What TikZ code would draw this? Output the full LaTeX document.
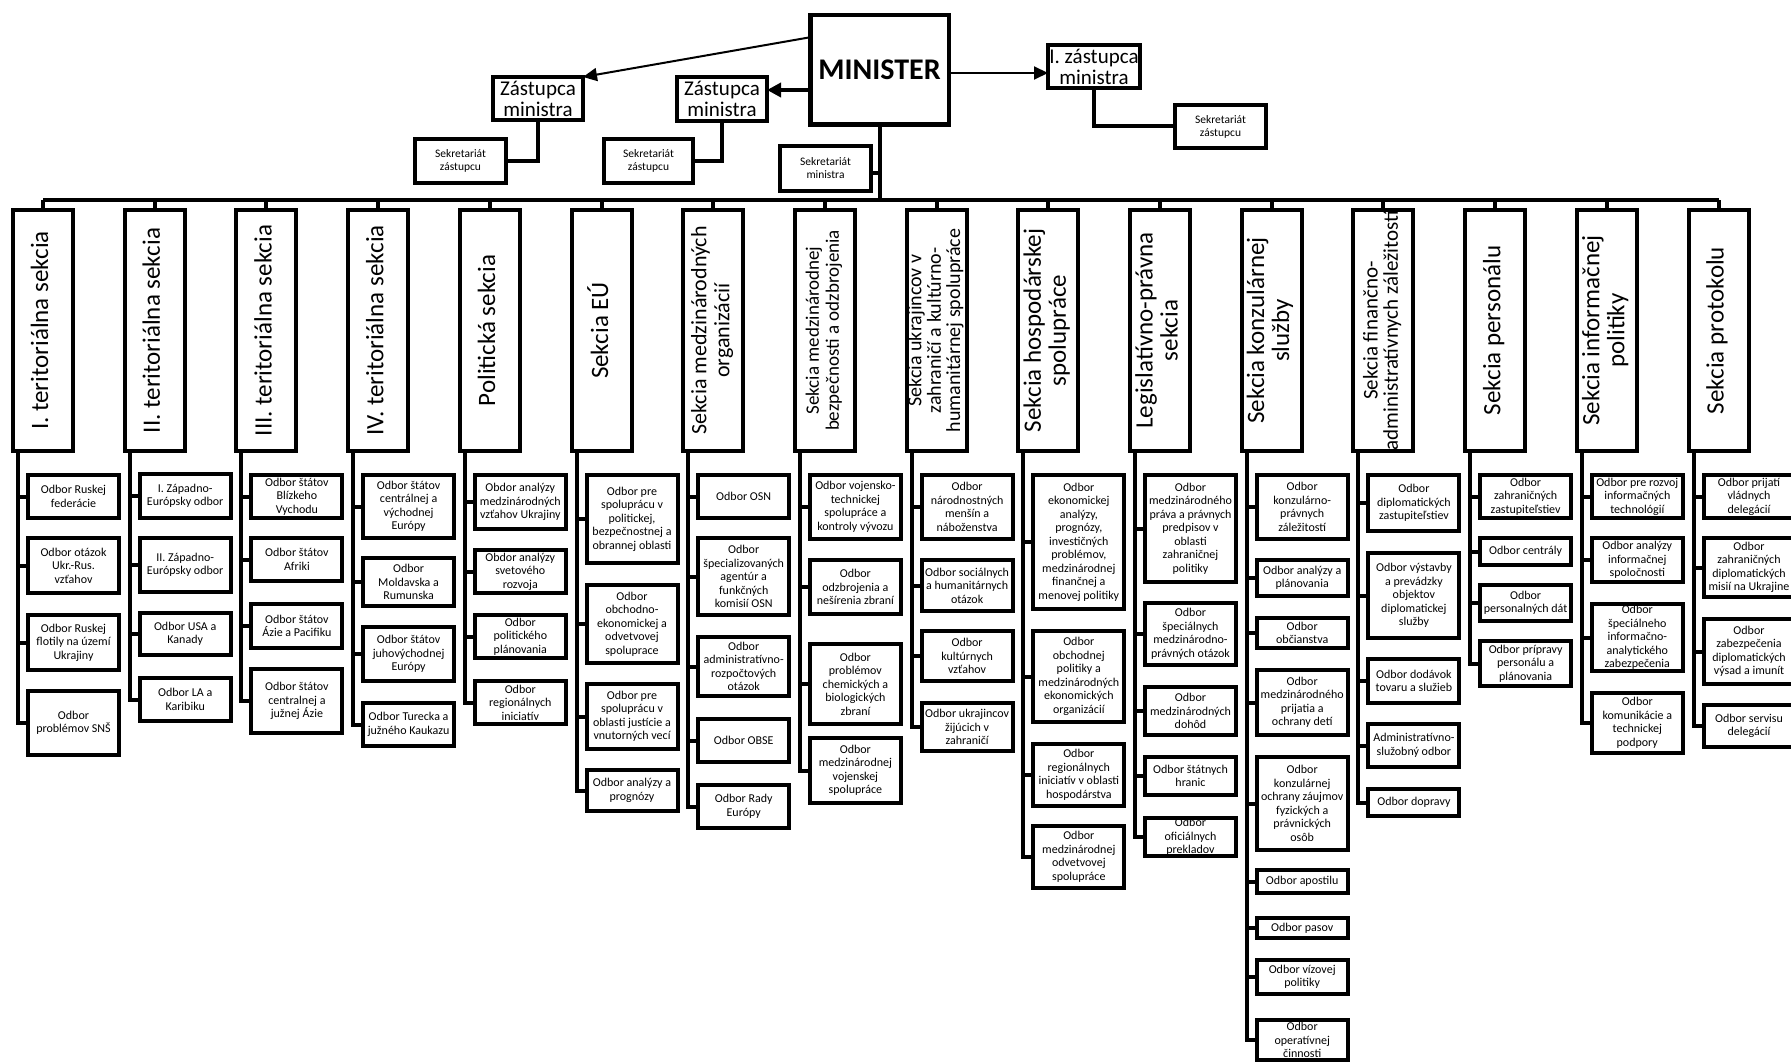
\documentclass[tikz,border=0pt]{standalone}
\usepackage{fontspec}
\setmainfont{Carlito}
\usepackage{graphicx}
\usetikzlibrary{arrows.meta}
\tikzset{
 conn/.style={line width=4pt},
 bx/.style={draw, line width=4pt, fill=white, inner sep=0pt, outer sep=0pt, align=center},
 obox/.style={bx, minimum width=91pt, font=\fontsize{12}{13.5}\selectfont},
 hdr/.style={bx, minimum width=60pt, minimum height=241pt},
 sek/.style={bx, font=\fontsize{11.5}{13}\selectfont},
 zast/.style={bx, font=\fontsize{21}{21}\selectfont},
 arrA/.style={line width=2pt, -{Triangle[length=14pt,width=13pt]}},
 arrB/.style={line width=3.5pt, -{Triangle[length=14pt,width=14pt]}},
}
\newcommand\hd[4]{%
 \pgfmathsetmacro\hx{11+(#1-1)*111.7+32}%
 \node[hdr] (h#1) at (\hx,330.5) {\rotatebox{90}{\fontsize{#2}{#3}\selectfont\begin{tabular}{@{}c@{}}#4\end{tabular}}};%
 \draw[conn] (h#1.north) -- (h#1.north |- bus);%
 \coordinate (t#1) at ([xshift=5pt]h#1.south west);%
}
\newcommand\ob[5]{%
 \pgfmathsetmacro\obx{11+(#2-1)*111.7+62.5}%
 \pgfmathsetmacro\oby{(#3+#4)/2}%
 \pgfmathsetmacro\obh{#4-#3-4}%
 \node[obox,minimum height=\obh pt] (#1) at (\obx,\oby) {#5};%
 \draw[conn] (t#2 |- #1.west) -- (#1.west);%
}
\begin{document}
\begin{tikzpicture}[x=1pt,y=-1pt]
\useasboundingbox[fill=white] (0,0) rectangle (1791,1064);
\coordinate (bus) at (0,200);

% top level
\node[bx, minimum width=138.5pt, minimum height=109.5pt, line width=4.5pt, font=\fontsize{30}{30}\selectfont\bfseries] (min) at (879.5,70) {MINISTER};
\node[zast, minimum width=90pt, minimum height=43pt] (z1) at (538,98.5) {Zástupca\\ministra};
\node[zast, minimum width=90pt, minimum height=44pt] (z2) at (722,99) {Zástupca\\ministra};
\node[zast, minimum width=92pt, minimum height=43pt] (iz) at (1094,66.5) {I. zástupca\\ministra};
\node[sek, minimum width=91pt, minimum height=44pt] (s1) at (460.5,161) {Sekretariát\\zástupcu};
\node[sek, minimum width=89pt, minimum height=44pt] (s2) at (648.5,161) {Sekretariát\\zástupcu};
\node[sek, minimum width=91pt, minimum height=45pt] (sm) at (825.5,168.5) {Sekretariát\\ministra};
\node[sek, minimum width=91pt, minimum height=43pt] (s3) at (1220.5,126.5) {Sekretariát\\zástupcu};

\draw[conn] (z1.south) |- (s1.east);
\draw[conn] (z2.south) |- (s2.east);
\draw[conn] (iz.south) |- (s3.west);
\draw[conn] (min.south) -- (min.south |- bus);
\draw[conn] ([yshift=-4.5pt]sm.east) -- ([yshift=-4.5pt]sm.east -| min.south);

\draw[arrA] ([yshift=-22pt]min.north west) -- (z1.north east);
\coordinate (a2) at ([yshift=9pt]z2.east);
\draw[arrB] (a2 -| min.west) -- (a2);
\coordinate (a3) at ([yshift=-6.5pt]iz.west);
\draw[arrA] (a3 -| min.east) -- (a3);

% sections
\hd{1}{25}{26}{I. teritoriálna sekcia}
\hd{2}{25}{26}{II. teritoriálna sekcia}
\hd{3}{25}{26}{III. teritoriálna sekcia}
\hd{4}{25}{26}{IV. teritoriálna sekcia}
\hd{5}{25}{26}{Politická sekcia}
\hd{6}{25}{26}{Sekcia EÚ}
\hd{7}{22}{23}{Sekcia medzinárodných\\organizácií}
\hd{8}{19}{20}{Sekcia medzinárodnej\\bezpečnosti a odzbrojenia}
\hd{9}{20}{18.5}{Sekcia ukrajincov v\\zahraničí a kultúrno-\\humanitárnej spolupráce}
\hd{10}{25}{25}{Sekcia hospodárskej\\spolupráce}
\hd{11}{25}{25}{Legislatívno-právna\\sekcia}
\hd{12}{25}{25}{Sekcia konzulárnej\\služby}
\hd{13}{21}{19.5}{Sekcia finančno-\\administratívnych záležitostí}
\hd{14}{25}{26}{Sekcia personálu}
\hd{15}{25}{25}{Sekcia informačnej\\politiky}
\hd{16}{25}{26}{Sekcia protokolu}
\draw[conn] (h1.north |- bus) -- (h16.north |- bus);

% column 1
\ob{c1a}{1}{473}{520}{Odbor Ruskej\\federácie}
\ob{c1b}{1}{536}{595}{Odbor otázok\\Ukr.-Rus.\\vzťahov}
\ob{c1c}{1}{613}{672}{Odbor Ruskej\\flotily na území\\Ukrajiny}
\ob{c1d}{1}{689}{757}{Odbor\\problémov  SNŠ}
\draw[conn] (t1) |- (c1d.west);
% column 2
\ob{c2a}{2}{472}{520}{I. Západno-\\Európsky odbor}
\ob{c2b}{2}{536}{594}{II. Západno-\\Európsky odbor}
\ob{c2c}{2}{611}{657}{Odbor USA a\\Kanady}
\ob{c2d}{2}{676}{723}{Odbor LA a\\Karibiku}
\draw[conn] (t2) |- (c2d.west);
% column 3
\ob{c3a}{3}{473}{520}{Odbor štátov\\Blízkeho\\Vychodu}
\ob{c3b}{3}{536}{583}{Odbor štátov\\Afriki}
\ob{c3c}{3}{602}{650}{Odbor štátov\\Ázie a Pacifiku}
\ob{c3d}{3}{667}{735}{Odbor štátov\\centralnej a\\južnej Ázie}
\draw[conn] (t3) |- (c3d.west);
% column 4
\ob{c4a}{4}{473}{540}{Odbor štátov\\centrálnej a\\východnej\\Európy}
\ob{c4b}{4}{556}{608}{Odbor\\Moldavska a\\Rumunska}
\ob{c4c}{4}{625}{683}{Odbor štátov\\juhovýchodnej\\Európy}
\ob{c4d}{4}{701}{748}{Odbor Turecka a\\južného Kaukazu}
\draw[conn] (t4) |- (c4d.west);
% column 5
\ob{c5a}{5}{473}{531}{Obdor analýzy\\medzinárodných\\vzťahov Ukrajiny}
\ob{c5b}{5}{548}{595}{Obdor analýzy\\svetového\\rozvoja}
\ob{c5c}{5}{613}{660}{Odbor\\politického\\plánovania}
\ob{c5d}{5}{679}{726}{Odbor\\regionálnych\\iniciatív}
\draw[conn] (t5) |- (c5d.west);
% column 6
\ob{c6a}{6}{473}{565}{Odbor pre\\spoluprácu v\\politickej,\\bezpečnostnej a\\obrannej oblasti}
\ob{c6b}{6}{583}{665}{Odbor\\obchodno-\\ekonomickej a\\odvetvovej\\spoluprace}
\ob{c6c}{6}{682}{751}{Odbor pre\\spoluprácu v\\oblasti justície a\\vnutorných vecí}
\ob{c6d}{6}{768}{813}{Odbor analýzy a\\prognózy}
\draw[conn] (t6) |- (c6d.west);
% column 7
\ob{c7a}{7}{473}{520}{Odbor OSN}
\ob{c7b}{7}{536}{617}{Odbor\\špecializovaných\\agentúr a\\funkčných\\komisií OSN}
\ob{c7c}{7}{635}{698}{Odbor\\administratívno-\\rozpočtových\\otázok}
\ob{c7d}{7}{717}{764}{Odbor OBSE}
\ob{c7e}{7}{783}{830}{Odbor Rady\\Európy}
\draw[conn] (t7) |- (c7e.west);
% column 8
\ob{c8a}{8}{473}{541}{Odbor vojensko-\\technickej\\spolupráce a\\kontroly vývozu}
\ob{c8b}{8}{558}{616}{Odbor\\odzbrojenia a\\nešírenia zbraní}
\ob{c8c}{8}{642}{726}{Odbor\\problémov\\chemických a\\biologických\\zbraní}
\ob{c8d}{8}{736}{805}{Odbor\\medzinárodnej\\vojenskej\\spolupráce}
\draw[conn] (t8) |- (c8d.west);
% column 9
\ob{c9a}{9}{473}{541}{Odbor\\národnostných\\menšín a\\náboženstva}
\ob{c9b}{9}{558}{613}{Odbor sociálnych\\a humanitárnych\\otázok}
\ob{c9c}{9}{629}{683}{Odbor\\kultúrnych\\vzťahov}
\ob{c9d}{9}{701}{753}{Odbor ukrajincov\\žijúcich v\\zahraničí}
\draw[conn] (t9) |- (c9d.west);
% column 10
\ob{c10a}{10}{473}{611}{Odbor\\ekonomickej\\analýzy,\\prognózy,\\investičných\\problémov,\\medzinárodnej\\finančnej a\\menovej politiky}
\ob{c10b}{10}{629}{724}{Odbor\\obchodnej\\politiky a\\medzinárodných\\ekonomických\\organizácií}
\ob{c10c}{10}{742}{808}{Odbor\\regionálnych\\iniciatív v oblasti\\hospodárstva}
\ob{c10d}{10}{824}{890}{Odbor\\medzinárodnej\\odvetvovej\\spolupráce}
\draw[conn] (t10) |- (c10d.west);
% column 11
\ob{c11a}{11}{473}{584}{Odbor\\medzinárodného\\práva a právnych\\predpisov v\\oblasti\\zahraničnej\\politiky}
\ob{c11b}{11}{601}{667}{Odbor\\špeciálnych\\medzinárodno-\\právných otázok}
\ob{c11c}{11}{685}{737}{Odbor\\medzinárodných\\dohôd}
\ob{c11d}{11}{755}{797}{Odbor štátnych\\hranic}
\ob{c11e}{11}{816}{858}{Odbor\\oficiálnych\\prekladov}
\draw[conn] (t11) |- (c11e.west);
% column 12
\ob{c12a}{12}{473}{541}{Odbor\\konzulárno-\\právnych\\záležitostí}
\ob{c12b}{12}{558}{598}{Odbor analýzy a\\plánovania}
\ob{c12c}{12}{616}{650}{Odbor\\občianstva}
\ob{c12d}{12}{668}{737}{Odbor\\medzinárodného\\prijatia a\\ochrany detí}
\ob{c12e}{12}{755}{852}{Odbor\\konzulárnej\\ochrany záujmov\\fyzických a\\právnických\\osôb}
\ob{c12f}{12}{868}{895}{Odbor apostilu}
\ob{c12g}{12}{916}{940}{Odbor pasov}
\ob{c12h}{12}{958}{996}{Odbor vízovej\\politiky}
\ob{c12i}{12}{1018}{1062}{Odbor\\operatívnej\\činnosti}
\draw[conn] (t12) |- (c12i.west);
% column 13
\ob{c13a}{13}{473}{533}{Odbor\\diplomatických\\zastupiteľstiev}
\ob{c13b}{13}{551}{640}{Odbor výstavby\\a prevádzky\\objektov\\diplomatickej\\služby}
\ob{c13c}{13}{657}{705}{Odbor dodávok\\tovaru a služieb}
\ob{c13d}{13}{722}{769}{Administratívno-\\služobný odbor}
\ob{c13e}{13}{787}{818}{Odbor dopravy}
\draw[conn] (t13) |- (c13e.west);
% column 14
\ob{c14a}{14}{473}{520}{Odbor\\zahraničných\\zastupiteľstiev}
\ob{c14b}{14}{536}{567}{Odbor centrály}
\ob{c14c}{14}{583}{623}{Odbor\\personalných dát}
\ob{c14d}{14}{639}{688}{Odbor prípravy\\personálu a\\plánovania}
\draw[conn] (t14) |- (c14d.west);
% column 15
\ob{c15a}{15}{473}{520}{Odbor pre rozvoj\\informačných\\technológií}
\ob{c15b}{15}{536}{584}{Odbor analýzy\\informačnej\\spoločnosti}
\ob{c15c}{15}{602}{673}{Odbor\\špeciálneho\\informačno-\\analytického\\zabezpečenia}
\ob{c15d}{15}{691}{755}{Odbor\\komunikácie a\\technickej\\podpory}
\draw[conn] (t15) |- (c15d.west);
% column 16
\ob{c16a}{16}{473}{520}{Odbor prijatí\\vládnych\\delegácií}
\ob{c16b}{16}{536}{599}{Odbor\\zahraničných\\diplomatických\\misií na Ukrajine}
\ob{c16c}{16}{617}{686}{Odbor\\zabezpečenia\\diplomatických\\výsad a imunít}
\ob{c16d}{16}{703}{749}{Odbor servisu\\delegácií}
\draw[conn] (t16) |- (c16d.west);
\end{tikzpicture}
\end{document}
